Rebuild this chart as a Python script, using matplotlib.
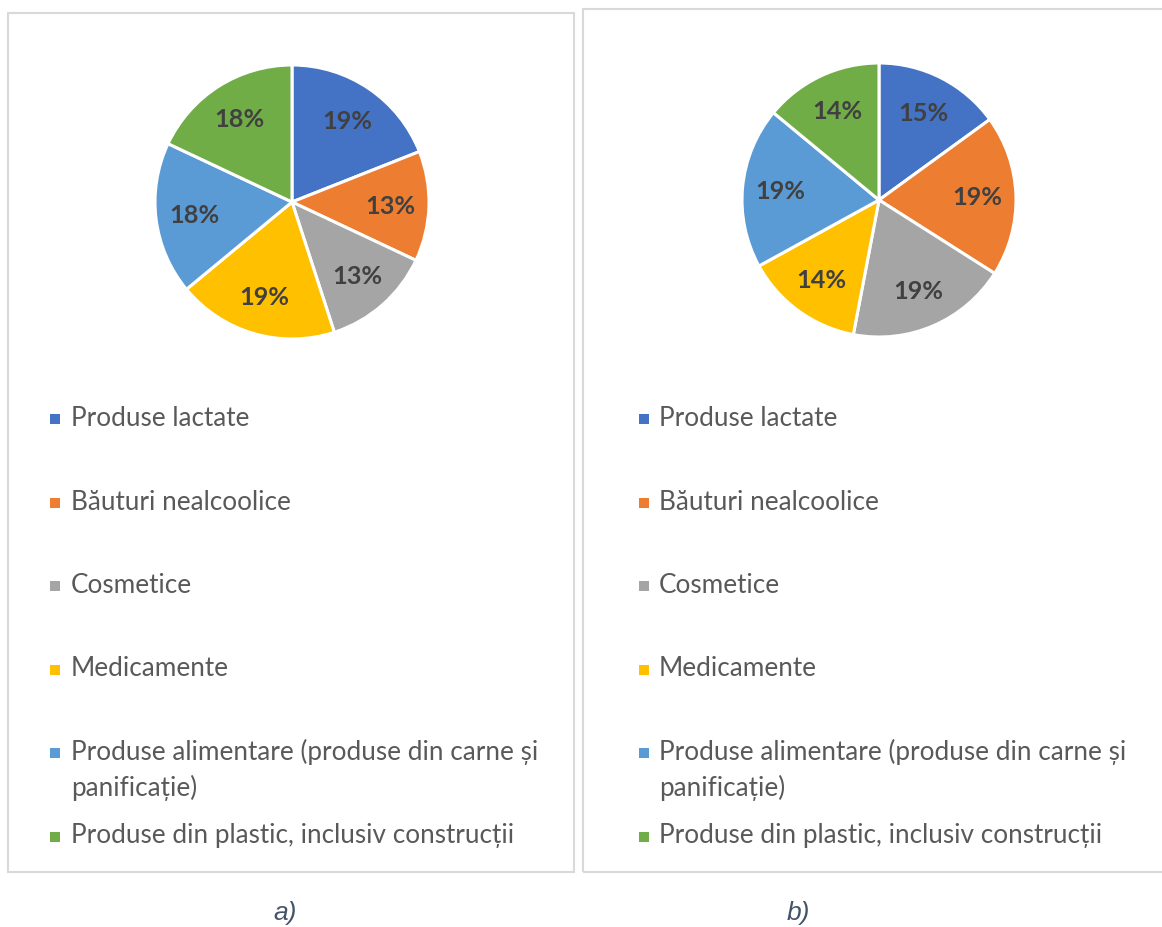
import matplotlib
matplotlib.use("Agg")
import matplotlib.pyplot as plt
from matplotlib.patches import Rectangle

# ---- data ----
categories = ["Produse lactate", "Băuturi nealcoolice", "Cosmetice", "Medicamente",
              "Produse alimentare (produse din carne și\npanificație)",
              "Produse din plastic, inclusiv construcții"]
values_a = [19, 13, 13, 19, 18, 18]
values_b = [15, 19, 19, 14, 19, 14]
panel_labels = ["a)", "b)"]
colors = ["#4472C4", "#ED7D31", "#A5A5A5", "#FFC000", "#5B9BD5", "#70AD47"]

# ---- layout (pixels) ----
W, H, DPI = 1162, 928, 100
FONT = ["Lato", "DejaVu Sans"]
fig = plt.figure(figsize=(W / DPI, H / DPI), dpi=DPI)
fig.patch.set_facecolor("white")


def fx(x):
    return x / W


def fy(y):
    return 1 - y / H


renderer = fig.canvas.get_renderer()


def fit_size(text, target_px, **kw):
    t = fig.text(0, 0, text, fontsize=10, **kw)
    w = t.get_window_extent(renderer).width
    t.remove()
    return 10 * target_px / w


leg_fs = fit_size("Produse alimentare (produse din carne și", 466, family=FONT)
lab_fs = fit_size("19%", 50, family=FONT, fontweight="bold")

panels = [
    dict(vals=values_a, box=(7.5, 14, 574, 873), c=(292, 203), sq=55, tx=71, cap=285),
    dict(vals=values_b, box=(582.5, 10, 1175, 873), c=(879, 201), sq=644, tx=659, cap=798),
]
R = 137
row0, row_step, line_step = 417, 83.5, 36
sq = 10

for i, p in enumerate(panels):
    x0, y0, x1, y1 = p["box"]
    fig.add_artist(Rectangle((fx(x0), fy(y1)), (x1 - x0) / W, (y1 - y0) / H,
                             transform=fig.transFigure, fill=False,
                             edgecolor="#D9D9D9", linewidth=1.5))
    cx, cy = p["c"]
    ax = fig.add_axes([fx(cx - R), fy(cy + R), 2 * R / W, 2 * R / H])
    ax.pie(p["vals"], colors=colors, startangle=90, counterclock=False,
           autopct=lambda v: f"{v:.0f}%", pctdistance=0.72,
           wedgeprops=dict(edgecolor="white", linewidth=2.2),
           textprops=dict(color="#404040", fontsize=lab_fs, fontweight="bold", family=FONT))
    ax.set_xlim(-1, 1)
    ax.set_ylim(-1, 1)
    ax.set_aspect("equal")
    ax.axis("off")

    # legend
    for k, (cat, col) in enumerate(zip(categories, colors)):
        ry = row0 + k * row_step
        base = ry + 9
        fig.add_artist(Rectangle((fx(p["sq"] - sq / 2), fy(base - 6 + sq / 2)), sq / W, sq / H,
                                 transform=fig.transFigure, facecolor=col, edgecolor="none"))
        for j, line in enumerate(cat.split("\n")):
            fig.text(fx(p["tx"]), fy(base + j * line_step), line, fontsize=leg_fs,
                     family=FONT, color="#595959", ha="left", va="baseline")

    fig.text(fx(p["cap"]), fy(913), panel_labels[i], fontsize=19, style="italic",
             family=["Liberation Sans", "DejaVu Sans"], color="#44546A",
             ha="center", va="center")

fig.savefig("out.png", dpi=DPI, facecolor="white")
